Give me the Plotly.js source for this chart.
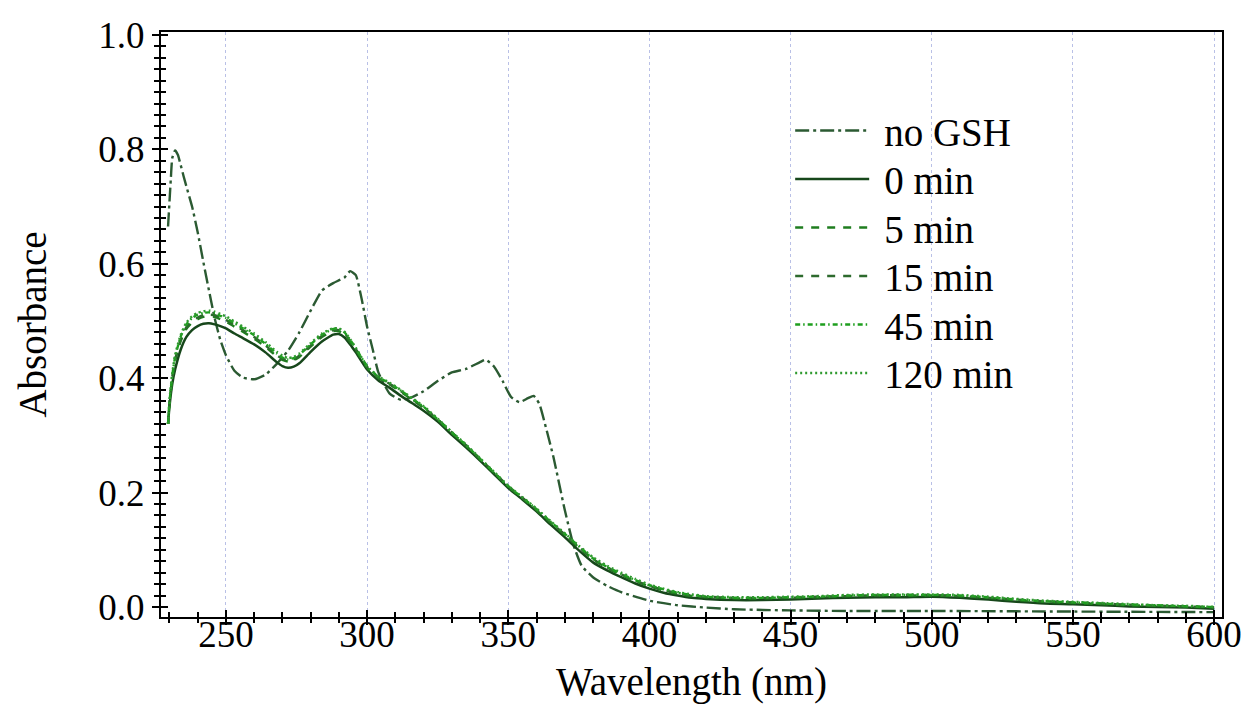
<!DOCTYPE html>
<html>
<head>
<meta charset="utf-8">
<script src="https://cdn.plot.ly/plotly-3.0.1.min.js"></script>
<style>
html,body{margin:0;padding:0;background:#fff;}
#chart{width:1248px;height:708px;}
</style>
</head>
<body>
<div id="chart"></div>
<script>
// ---- data ----
const wavelengthNoGSH = [229.5,230.5,231,232,233,234,235,236,238,240,242,244,246,248,250,253,256,260,264,268,272,276,280,284,288,292,294,296,298,300,302,304,308,312,316,320,325,330,335,340,342,345,348,351,354,357,359,361,363,366,370,373,376,380,385,390,400,410,420,430,450,470,500,550,600];
const absNoGSH = [0.665,0.75,0.785,0.798,0.79,0.772,0.753,0.735,0.70,0.655,0.603,0.553,0.505,0.467,0.44,0.413,0.401,0.398,0.406,0.425,0.448,0.48,0.518,0.553,0.566,0.576,0.587,0.58,0.54,0.49,0.45,0.41,0.373,0.362,0.367,0.377,0.395,0.41,0.416,0.428,0.432,0.42,0.395,0.367,0.358,0.365,0.369,0.355,0.32,0.262,0.17,0.11,0.072,0.052,0.037,0.026,0.011,0.003,-0.001,-0.004,-0.006,-0.007,-0.007,-0.008,-0.009];

const wavelength = [229.5,230,231,232,234,236,238,240,242,244,246,248,250,253,256,260,264,268,270,272,274,276,280,284,288,290,292,294,296,300,304,308,312,316,320,325,330,335,340,345,350,355,360,365,370,375,380,385,390,395,400,405,410,415,420,430,440,450,460,470,480,490,500,510,520,530,540,550,560,570,580,590,600];
const abs0min = [0.32,0.35,0.39,0.415,0.45,0.472,0.484,0.491,0.495,0.496,0.494,0.491,0.487,0.478,0.470,0.459,0.445,0.428,0.421,0.418,0.420,0.426,0.446,0.464,0.476,0.477,0.471,0.459,0.445,0.415,0.396,0.383,0.369,0.356,0.343,0.324,0.301,0.279,0.256,0.232,0.208,0.188,0.167,0.144,0.122,0.099,0.078,0.064,0.052,0.041,0.032,0.025,0.020,0.016,0.014,0.012,0.012,0.013,0.015,0.016,0.017,0.017,0.018,0.016,0.013,0.009,0.006,0.005,0.003,0.001,0.000,-0.001,-0.003];
const abs5min = [0.32,0.355,0.40,0.43,0.465,0.486,0.497,0.503,0.507,0.508,0.507,0.503,0.499,0.490,0.481,0.469,0.455,0.438,0.432,0.429,0.431,0.437,0.455,0.472,0.482,0.482,0.476,0.463,0.449,0.418,0.400,0.389,0.376,0.362,0.348,0.327,0.304,0.282,0.258,0.234,0.210,0.190,0.169,0.147,0.126,0.104,0.083,0.068,0.056,0.045,0.036,0.029,0.023,0.019,0.017,0.015,0.015,0.016,0.017,0.019,0.020,0.020,0.020,0.019,0.016,0.012,0.009,0.007,0.005,0.003,0.002,0.001,-0.001];
const abs15min = [0.32,0.356,0.40,0.432,0.468,0.489,0.500,0.506,0.510,0.511,0.510,0.506,0.502,0.493,0.484,0.472,0.457,0.440,0.434,0.431,0.433,0.439,0.457,0.474,0.484,0.484,0.478,0.465,0.451,0.420,0.401,0.390,0.377,0.363,0.349,0.328,0.305,0.283,0.259,0.235,0.211,0.191,0.170,0.148,0.127,0.105,0.084,0.069,0.057,0.046,0.037,0.030,0.024,0.020,0.018,0.016,0.016,0.016,0.018,0.019,0.020,0.021,0.021,0.019,0.016,0.013,0.010,0.008,0.006,0.004,0.002,0.001,-0.001];
const abs45min = [0.32,0.358,0.405,0.437,0.473,0.494,0.505,0.511,0.514,0.515,0.513,0.509,0.505,0.496,0.487,0.475,0.460,0.443,0.436,0.433,0.435,0.441,0.459,0.476,0.486,0.486,0.480,0.467,0.452,0.421,0.402,0.391,0.378,0.364,0.350,0.328,0.305,0.283,0.259,0.235,0.211,0.191,0.171,0.149,0.128,0.106,0.085,0.070,0.058,0.047,0.038,0.031,0.025,0.021,0.018,0.016,0.016,0.017,0.018,0.020,0.021,0.021,0.021,0.020,0.017,0.013,0.010,0.008,0.006,0.004,0.003,0.001,0.000];
const abs120min = [0.32,0.36,0.408,0.44,0.476,0.497,0.508,0.514,0.517,0.518,0.516,0.512,0.508,0.499,0.490,0.478,0.463,0.446,0.439,0.435,0.437,0.443,0.461,0.478,0.487,0.487,0.481,0.468,0.453,0.421,0.403,0.392,0.379,0.365,0.351,0.329,0.306,0.284,0.260,0.236,0.212,0.192,0.172,0.150,0.129,0.107,0.087,0.072,0.060,0.049,0.039,0.032,0.026,0.022,0.019,0.017,0.017,0.018,0.019,0.021,0.022,0.022,0.022,0.021,0.018,0.014,0.011,0.009,0.007,0.005,0.003,0.002,0.000];

const seriesNames = ['no GSH','0 min','5 min','15 min','45 min','120 min'];
const xTicks = [250,300,350,400,450,500,550,600];
const yTicks = [0,0.2,0.4,0.6,0.8,1.0];
const yTickText = ['0.0','0.2','0.4','0.6','0.8','1.0'];

// ---- styling ----
const colors = ['#2b5a32','#17471b','#1f7d1f','#2d6a2d','#1e9e1e','#2f9a2f'];
const dashes = ['14px,4px,3px,4px','solid','8px,8px','8px,8px','5px,3px,1.5px,3px','2px,3px'];
const widths = [2.4,2.5,2.4,2.4,2.4,2.5];

const xs = [wavelengthNoGSH, wavelength, wavelength, wavelength, wavelength, wavelength];
const ys = [absNoGSH, abs0min, abs5min, abs15min, abs45min, abs120min];

const traces = seriesNames.map((n,i)=>({
  type:'scatter', mode:'lines', name:n,
  x: xs[i], y: ys[i],
  line:{color:colors[i], dash:dashes[i], width:widths[i], shape:'spline', smoothing:0.5}
}));
// invisible helper traces so the overlay tick-only axes are drawn
traces.push({type:'scatter', mode:'lines', x:[xTicks[0]], y:[yTicks[0]], xaxis:'x2', yaxis:'y2', showlegend:false, hoverinfo:'skip', line:{width:0}, opacity:0});
traces.push({type:'scatter', mode:'lines', x:[xTicks[0]], y:[yTicks[0]], xaxis:'x3', yaxis:'y', showlegend:false, hoverinfo:'skip', line:{width:0}, opacity:0});

const font = 'Liberation Serif, Times New Roman, serif';
const xr = [227.0, 602.8];
const yr = [-0.0175, 1.005];

const layout = {
  width:1248, height:708,
  margin:{l:161, r:26, t:32, b:91},
  paper_bgcolor:'#fff', plot_bgcolor:'#fff',
  font:{family:font, color:'#000', size:36},
  showlegend:true,
  legend:{x:0.593, y:0.886, xanchor:'left', yanchor:'top', bgcolor:'rgba(0,0,0,0)', borderwidth:0,
          font:{family:font, size:39, color:'#000'}, itemwidth:84, tracegroupgap:0},
  // main x axis: labels, line, grid (tick marks drawn by overlay axes)
  xaxis:{range:xr, tickvals:xTicks, ticktext:xTicks.map(String), ticks:'outside', ticklen:0, tickwidth:0,
         showline:true, linecolor:'#000', linewidth:2, mirror:true, zeroline:false,
         showgrid:true, gridcolor:'#b9c0e6', griddash:'dot', gridwidth:1,
         tickfont:{family:font, size:37, color:'#000'},
         title:{text:'Wavelength (nm)', font:{family:font, size:39, color:'#000'}, standoff:12}},
  yaxis:{range:yr, tickvals:yTicks, ticktext:yTickText, ticks:'outside', ticklen:7, tickwidth:2, tickcolor:'#000',
         showline:true, linecolor:'#000', linewidth:2, mirror:true, zeroline:false, showgrid:false,
         minor:{dtick:0.02, tick0:0, ticks:'outside', ticklen:5, tickwidth:2, tickcolor:'#000', showgrid:false},
         tickfont:{family:font, size:37, color:'#000'},
         title:{text:'Absorbance', font:{family:font, size:39, color:'#000'}, standoff:40}},
  xaxis2:{overlaying:'x', anchor:'y2', side:'bottom', range:xr, tickvals:xTicks, showticklabels:false, ticks:'inside', ticklen:7, tickwidth:2, tickcolor:'#000',
          showline:false, showgrid:false, zeroline:false,
          minor:{dtick:10, tick0:0, ticks:'inside', ticklen:5, tickwidth:2, tickcolor:'#000', showgrid:false}},
  xaxis3:{overlaying:'x', anchor:'y', side:'bottom', range:xr, tickvals:xTicks, showticklabels:false, ticks:'outside', ticklen:7, tickwidth:2, tickcolor:'#000',
          showline:false, showgrid:false, zeroline:false,
          minor:{dtick:10, tick0:0, ticks:'outside', ticklen:5, tickwidth:2, tickcolor:'#000', showgrid:false}},
  yaxis2:{overlaying:'y', anchor:'x2', side:'left', range:yr, tickvals:yTicks, showticklabels:false, ticks:'inside', ticklen:7, tickwidth:2, tickcolor:'#000',
          showline:false, showgrid:false, zeroline:false,
          minor:{dtick:0.02, tick0:0, ticks:'inside', ticklen:5, tickwidth:2, tickcolor:'#000', showgrid:false}}
};

Plotly.newPlot('chart', traces, layout, {displayModeBar:false, staticPlot:true}).then(gd=>{
  // lengthen the legend line samples to match the reference
  document.querySelectorAll('.legend .legendlines path').forEach(p=>{ p.setAttribute('d','M5,0h74'); });
  // tighten legend row spacing to the reference's ~48.5px
  const items = Array.from(document.querySelectorAll('.legend g.traces'));
  const parse = t => { const m = /translate\(([-\d.]+)[ ,]+([-\d.]+)\)/.exec(t||''); return m ? [parseFloat(m[1]), parseFloat(m[2])] : [0,0]; };
  if (items.length) {
    const y0 = parse(items[0].getAttribute('transform'))[1];
    items.forEach((g,i)=>{
      const [tx] = parse(g.getAttribute('transform'));
      g.setAttribute('transform', 'translate(' + tx + ',' + (y0 + i*48.5) + ')');
    });
  }
  // pull the x tick labels and title closer to the axis, as in the reference
  document.querySelectorAll('g.xaxislayer-above g.xtick text').forEach(t=>{
    t.setAttribute('transform', (t.getAttribute('transform')||'') + ' translate(0,-16)');
  });
  document.querySelectorAll('g.g-xtitle text').forEach(t=>{
    t.setAttribute('transform', (t.getAttribute('transform')||'') + ' translate(0,-4)');
  });
});
</script>
</body>
</html>
